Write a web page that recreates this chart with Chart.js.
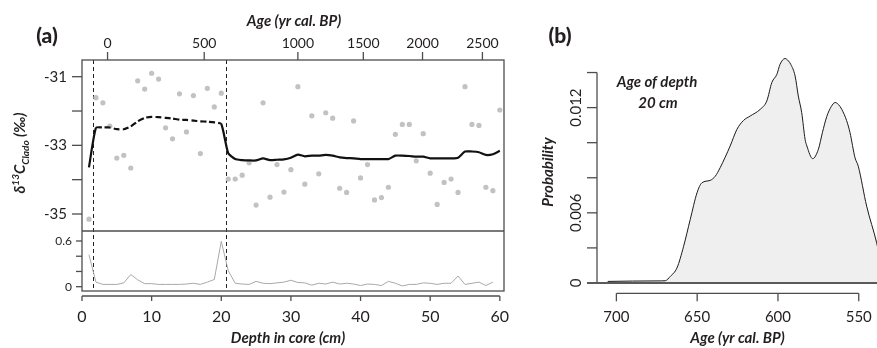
<!DOCTYPE html>
<html>
<head>
<meta charset="utf-8">
<script src="https://cdn.jsdelivr.net/npm/chart.js@4.4.1/dist/chart.umd.min.js"></script>
<style>
html,body{margin:0;padding:0;background:#fff;}
#wrap{position:relative;width:877px;height:348px;overflow:hidden;}
canvas{position:absolute;top:0;}
#ca{left:0;}
#cb{left:530px;}
</style>
</head>
<body>
<div id="wrap">
<canvas id="ca" width="530" height="348"></canvas>
<canvas id="cb" width="347" height="348"></canvas>
</div>
<script>
// ---------- Panel (a) data ----------
const depthCm = [1,2,3,4,5,6,7,8,9,10,11,12,13,14,15,16,17,18,19,20,21,22,23,24,25,26,27,28,29,30,31,32,33,34,35,36,37,38,39,40,41,42,43,44,45,46,47,48,49,50,51,52,53,54,55,56,57,58,59,60];
const d13C = [-35.15,-31.61,-31.76,-32.44,-33.37,-33.29,-33.66,-31.12,-31.36,-30.90,-31.07,-32.49,-32.81,-31.50,-32.61,-31.55,-33.24,-31.34,-31.88,-31.48,-33.98,-33.98,-33.87,-33.51,-34.74,-31.76,-34.51,-33.56,-34.36,-33.71,-31.29,-34.13,-32.14,-33.83,-32.05,-32.21,-34.25,-34.37,-32.29,-33.95,-33.56,-34.59,-34.52,-34.22,-32.68,-32.39,-32.39,-33.45,-32.66,-33.81,-34.72,-34.08,-33.98,-34.37,-31.29,-32.39,-32.42,-34.22,-34.32,-31.97];
const d13CMean = [-33.64,-32.49,-32.48,-32.48,-32.53,-32.53,-32.45,-32.30,-32.20,-32.17,-32.18,-32.20,-32.22,-32.25,-32.26,-32.28,-32.30,-32.31,-32.33,-32.38,-33.23,-33.40,-33.43,-33.44,-33.44,-33.38,-33.43,-33.42,-33.41,-33.36,-33.27,-33.32,-33.30,-33.30,-33.28,-33.30,-33.35,-33.37,-33.38,-33.40,-33.40,-33.40,-33.40,-33.40,-33.30,-33.30,-33.31,-33.33,-33.33,-33.38,-33.38,-33.38,-33.38,-33.36,-33.18,-33.18,-33.20,-33.28,-33.26,-33.16];
const lowDepth = [1,2,3,4,5,6,7,8,9,10,11,12,13,14,15,16,17,18,19,20,21,22,23,24,25,26,27,28,29,30,31,32,33,34,35,36,37,38,39,40,41,42,43,44,45,46,47,48,49,50,51,52,53,54,55,56,57,58,59];
const lowValue = [0.42,0.06,0.03,0.03,0.03,0.05,0.16,0.09,0.04,0.04,0.03,0.03,0.03,0.03,0.035,0.045,0.03,0.06,0.095,0.595,0.21,0.045,0.035,0.03,0.07,0.045,0.04,0.05,0.06,0.085,0.055,0.05,0.02,0.045,0.035,0.06,0.035,0.045,0.035,0.015,0.035,0.03,0.015,0.07,0.045,0.01,0.03,0.03,0.05,0.045,0.03,0.045,0.045,0.14,0.03,0.045,0.06,0.015,0.06];
const dashFrom = 2, dashTo = 20;
const dashedDepths = [1.58, 20.66];
const xTicksA = [0,10,20,30,40,50,60];
const ageTickLabels = ['0','500','1000','1500','2000','2500'];
const ageTickDepths = [3.67, 17.55, 31.0, 40.4, 48.9, 57.5];
const yTicksUpper = [-31,-32,-33,-34,-35];
const yLabelsUpper = ['-31','-33','-35'];
const yTicksLower = [0,0.2,0.4,0.6];
const yLabelsLower = ['0','0.6'];

// ---------- Panel (b) data ----------
const bAge = [705.4,690,672,669.7,666.6,662.5,658.4,654.3,650.1,647.1,642,638.8,635.8,629.6,625.4,621.3,617.2,611,606.9,603.8,600.7,598.7,595.6,593.5,592.1,589.4,587.4,585.3,583.2,582.1,578.5,575,572.5,569.8,567,564.7,562.5,560.5,557.5,555.4,552.3,550.3,545.1,538.9,538.0];
const bProb = [0.00009,0.00011,0.00012,0.00013,0.00038,0.00086,0.00209,0.00362,0.00514,0.00571,0.00585,0.00609,0.00657,0.00781,0.00876,0.00927,0.00952,0.0099,0.01038,0.01143,0.01189,0.01247,0.0128,0.01266,0.01247,0.01181,0.01066,0.00971,0.00819,0.00781,0.00709,0.00762,0.00857,0.00949,0.01006,0.01029,0.01017,0.0099,0.00926,0.00857,0.00714,0.00666,0.00438,0.00229,0.0019];
const bXTicks = [700,650,600,550];
const bYTicks = [0,0.002,0.004,0.006,0.008,0.010,0.012];
const bYTickLabels = ['0','','0.006','','','0.012',''];

const FONT = 'Lato, "Open Sans", "DejaVu Sans", sans-serif';
const TXT = '#231f20';
const AXC = '#4d4d4d';

function line(ctx, x1, y1, x2, y2){ctx.beginPath();ctx.moveTo(x1,y1);ctx.lineTo(x2,y2);ctx.stroke();}

const plugA = {
  id: 'plugA',
  beforeDatasetsDraw(chart){
    const {ctx, chartArea:a, scales:{x}} = chart;
    ctx.save();
    ctx.strokeStyle = '#222'; ctx.lineWidth = 1; ctx.setLineDash([4,3]);
    dashedDepths.forEach(d => { const px = Math.round(x.getPixelForValue(d)) + 0.5; line(ctx, px, a.top, px, a.bottom); });
    ctx.restore();
  },
  afterDraw(chart){
    const {ctx, chartArea:a, scales:{x, y, y2}} = chart;
    ctx.save();
    ctx.strokeStyle = AXC; ctx.lineWidth = 1.3;
    ctx.strokeRect(a.left, a.top, a.right - a.left, a.bottom - a.top);
    line(ctx, a.left, y2.top, a.right, y2.top);
    ctx.fillStyle = TXT;
    // bottom axis (detached)
    const by = a.bottom + 5;
    line(ctx, x.getPixelForValue(xTicksA[0]), by, x.getPixelForValue(xTicksA[xTicksA.length-1]), by);
    ctx.font = '16px ' + FONT; ctx.textAlign = 'center'; ctx.textBaseline = 'middle';
    xTicksA.forEach(v => { const px = x.getPixelForValue(v); line(ctx, px, by, px, by + 5); ctx.fillText(String(v), px, a.bottom + 26); });
    ctx.font = 'italic bold 15px ' + FONT;
    ctx.fillText('Depth in core (cm)', 288, 338);
    // top age axis
    ctx.font = '14px ' + FONT;
    ageTickDepths.forEach((d, i) => { const px = x.getPixelForValue(d); line(ctx, px, a.top, px, a.top - 8); ctx.fillText(ageTickLabels[i], px, a.top - 17); });
    ctx.font = 'italic bold 15px ' + FONT;
    ctx.fillText('Age (yr cal. BP)', 294, 21);
    // left upper axis
    ctx.font = '15px ' + FONT; ctx.textAlign = 'right';
    yTicksUpper.forEach(v => { const py = y.getPixelForValue(v); line(ctx, a.left - 10, py, a.left, py); });
    yLabelsUpper.forEach(s => { const py = y.getPixelForValue(parseFloat(s)); ctx.fillText(s, a.left - 15, py); });
    // left lower axis
    ctx.font = '12px ' + FONT;
    yTicksLower.forEach(v => { const py = y2.getPixelForValue(v); line(ctx, a.left - 6, py, a.left, py); });
    yLabelsLower.forEach(s => { const py = y2.getPixelForValue(parseFloat(s)); ctx.fillText(s, a.left - 10, py); });
    // y title rotated
    const parts = [
      {t:'δ', f:'italic bold 15px ' + FONT, dy:0},
      {t:'13', f:'italic bold 10px ' + FONT, dy:-6},
      {t:'C', f:'italic bold 15px ' + FONT, dy:0},
      {t:'Clado', f:'italic bold 10px ' + FONT, dy:4},
      {t:' (‰)', f:'italic bold 15px ' + FONT, dy:0}
    ];
    ctx.translate(25, 153); ctx.rotate(-Math.PI/2);
    let tot = 0; parts.forEach(p => { ctx.font = p.f; p.w = ctx.measureText(p.t).width; tot += p.w; });
    let cx = -tot/2; ctx.textAlign = 'left'; ctx.textBaseline = 'alphabetic';
    parts.forEach(p => { ctx.font = p.f; ctx.fillText(p.t, cx, p.dy); cx += p.w; });
    ctx.setTransform(1,0,0,1,0,0);
    ctx.font = '900 21px ' + FONT; ctx.textAlign = 'center'; ctx.textBaseline = 'middle';
    ctx.fillText('(a)', 47, 36);
    ctx.restore();
  }
};

new Chart(document.getElementById('ca'), {
  type: 'line',
  data: {
    datasets: [
      {
        data: depthCm.map((d, i) => ({x: d, y: d13CMean[i]})),
        yAxisID: 'y', borderColor: '#111', borderWidth: 2.2, pointRadius: 0, fill: false, tension: 0.2,
        segment: { borderDash: c => (c.p0.parsed.x >= dashFrom && c.p1.parsed.x <= dashTo) ? [6,3] : [] }
      },
      {
        data: depthCm.map((d, i) => ({x: d, y: d13C[i]})),
        yAxisID: 'y', showLine: false, pointRadius: 2.6, pointBorderWidth: 0,
        pointBackgroundColor: '#c2c2c2', borderColor: '#c2c2c2'
      },
      {
        data: lowDepth.map((d, i) => ({x: d, y: lowValue[i]})),
        yAxisID: 'y2', borderColor: '#a9a9a9', borderWidth: 1, pointRadius: 0, fill: false, tension: 0
      }
    ]
  },
  options: {
    responsive: false, animation: false, devicePixelRatio: 1,
    layout: { padding: { left: 82, right: 26, top: 60, bottom: 57 } },
    plugins: { legend: { display: false }, tooltip: { enabled: false } },
    scales: {
      x: { type: 'linear', display: false, min: 0, max: 60.6 },
      y: { type: 'linear', display: false, min: -35.495, max: -30.514, stack: 'a', stackWeight: 171, weight: 1 },
      y2: { type: 'linear', display: false, min: -0.0565, max: 0.731, stack: 'a', stackWeight: 60, weight: 0 }
    }
  },
  plugins: [plugA]
});

const plugB = {
  id: 'plugB',
  afterDraw(chart){
    const {ctx, chartArea:a, scales:{x, y}} = chart;
    ctx.save();
    ctx.strokeStyle = AXC; ctx.lineWidth = 1.3; ctx.fillStyle = TXT;
    const y0 = y.getPixelForValue(0);
    line(ctx, a.left, y0, a.left, y.getPixelForValue(bYTicks[bYTicks.length-1]));
    bYTicks.forEach(v => { const py = y.getPixelForValue(v); line(ctx, a.left - 10, py, a.left, py); });
    ctx.lineWidth = 2; ctx.strokeStyle = '#5a5a5a';
    line(ctx, a.left - 10, y0, a.right, y0);
    ctx.lineWidth = 1.3; ctx.strokeStyle = AXC;
    ctx.font = '15px ' + FONT; ctx.textAlign = 'center'; ctx.textBaseline = 'middle';
    bYTicks.forEach((v, i) => {
      if (!bYTickLabels[i]) return;
      const py = y.getPixelForValue(v);
      ctx.save(); ctx.translate(a.left - 21, py); ctx.rotate(-Math.PI/2); ctx.fillText(bYTickLabels[i], 0, 0); ctx.restore();
    });
    const by = a.bottom + 3.3;
    line(ctx, x.getPixelForValue(bXTicks[0]), by, x.getPixelForValue(bXTicks[bXTicks.length-1]), by);
    bXTicks.forEach(v => { const px = x.getPixelForValue(v); line(ctx, px, by, px, by + 8); ctx.fillText(String(v), px, a.bottom + 27); });
    ctx.font = 'italic bold 15px ' + FONT;
    ctx.fillText('Age (yr cal. BP)', 207.5, 338.5);
    ctx.fillText('Age of depth', 127, 82);
    ctx.fillText('20 cm', 128, 103);
    ctx.save(); ctx.translate(18, 172); ctx.rotate(-Math.PI/2); ctx.fillText('Probability', 0, 0); ctx.restore();
    ctx.font = '900 21px ' + FONT;
    ctx.fillText('(b)', 30, 36);
    ctx.restore();
  }
};

new Chart(document.getElementById('cb'), {
  type: 'line',
  data: {
    datasets: [{
      data: bAge.map((g, i) => ({x: g, y: bProb[i]})),
      borderColor: '#1a1a1a', borderWidth: 1, pointRadius: 0,
      fill: 'origin', backgroundColor: '#efefef',
      cubicInterpolationMode: 'monotone', tension: 0.3
    }]
  },
  options: {
    responsive: false, animation: false, devicePixelRatio: 1,
    layout: { padding: { left: 67, right: 0, top: 55, bottom: 58 } },
    plugins: { legend: { display: false }, tooltip: { enabled: false } },
    scales: {
      x: { type: 'linear', display: false, reverse: true, min: 538.7, max: 712 },
      y: { type: 'linear', display: false, min: -0.0004, max: 0.013 }
    }
  },
  plugins: [plugB]
});
</script>
</body>
</html>
